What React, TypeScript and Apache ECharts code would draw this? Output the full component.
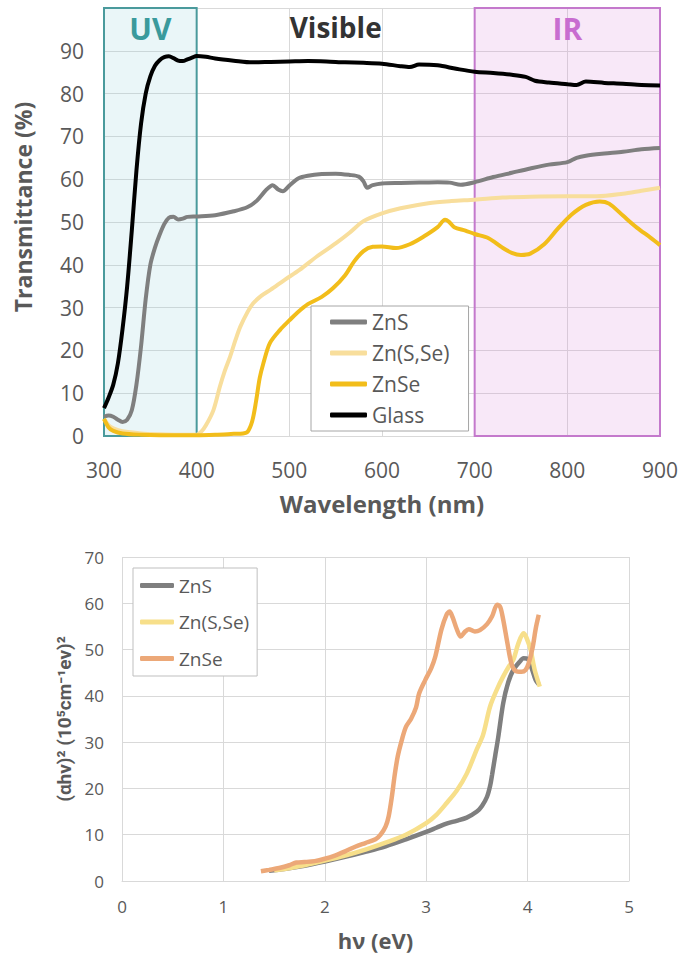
import React, { useEffect, useRef } from 'react';
import * as echarts from 'echarts';

const FONT = '"Open Sans", "Noto Sans", sans-serif';
const NARROW_FONT = 'Roboto, "Noto Sans", sans-serif';
const AXIS_TEXT = '#595959';
const GRID = '#d9d9d9';

// ---------- Top chart: transmittance vs wavelength ----------
const topNames = ['ZnS', 'Zn(S,Se)', 'ZnSe', 'Glass'];
const topColors = ['#7f7f7f', '#f8de9c', '#f2bd1a', '#000000'];
const wavelengthTicks = [300, 400, 500, 600, 700, 800, 900];

const znsTrans: [number, number][] = [
  [300, 4.5], [305, 4.8], [310, 4.5], [315, 3.8], [320, 3.3], [325, 3.8], [330, 6], [335, 12],
  [340, 21], [345, 32], [350, 40], [355, 44], [360, 47], [365, 49.5], [370, 51], [375, 51.2],
  [380, 50.6], [385, 50.8], [390, 51.2], [400, 51.3], [420, 51.6], [440, 52.5], [455, 53.5],
  [465, 55], [475, 57.5], [482, 58.6], [488, 57.6], [493, 57.2], [500, 58.5], [510, 60.2],
  [520, 60.8], [535, 61.2], [550, 61.3], [565, 61], [575, 60.6], [580, 59.5], [584, 58],
  [590, 58.6], [600, 59], [620, 59.1], [640, 59.2], [660, 59.3], [673, 59.2], [685, 58.7],
  [700, 59.3], [720, 60.5], [740, 61.5], [760, 62.5], [780, 63.4], [800, 64], [810, 65],
  [820, 65.5], [840, 66], [860, 66.4], [880, 67], [900, 67.3],
];
const znsseTrans: [number, number][] = [
  [300, 4], [305, 2.5], [310, 1.8], [320, 1.1], [340, 0.6], [360, 0.4], [380, 0.3], [400, 0.3],
  [405, 1], [410, 2.5], [418, 6], [425, 11.5], [430, 15], [436, 18.5], [442, 22.5], [447, 25.5],
  [455, 29], [461, 31], [470, 32.8], [480, 34.2], [495, 36.5], [511, 38.8], [530, 42], [550, 45],
  [565, 47.5], [580, 50.2], [600, 52], [620, 53.2], [650, 54.4], [675, 54.9], [700, 55.2],
  [730, 55.7], [760, 55.9], [800, 56], [832, 56], [860, 56.6], [880, 57.3], [900, 58],
];
const znseTrans: [number, number][] = [
  [300, 4], [305, 2], [310, 1.2], [320, 0.6], [340, 0.3], [360, 0.2], [400, 0.2], [420, 0.3],
  [440, 0.5], [450, 0.6], [455, 1], [460, 3.5], [464, 8], [468, 13.5], [472, 17], [479, 21.7],
  [490, 24.8], [500, 27], [508, 28.7], [520, 30.8], [535, 32.5], [547, 34.5], [560, 37.5],
  [570, 40.8], [580, 43.2], [590, 44.2], [600, 44.3], [615, 43.9], [630, 44.8], [645, 46.6],
  [660, 48.8], [668, 50.5], [672, 50.1], [678, 48.8], [690, 48], [700, 47.2], [715, 46.2],
  [730, 44], [740, 42.8], [750, 42.3], [760, 42.6], [775, 44.8], [790, 48.5], [805, 51.8],
  [820, 54], [835, 54.8], [845, 54.3], [860, 51.5], [875, 48.7], [890, 46.3], [900, 44.6],
];
const glassTrans: [number, number][] = [
  [300, 6.5], [305, 9], [310, 12], [315, 17], [320, 25], [325, 35], [330, 48], [335, 62],
  [340, 73], [345, 80], [350, 84], [355, 86.5], [360, 87.8], [365, 88.5], [370, 88.7],
  [375, 88.3], [380, 87.7], [385, 87.6], [390, 88], [395, 88.4], [400, 88.8], [410, 88.6],
  [420, 88.2], [440, 87.7], [460, 87.3], [480, 87.4], [500, 87.5], [520, 87.6], [540, 87.5],
  [560, 87.3], [580, 87.2], [600, 87], [620, 86.4], [630, 86.2], [640, 86.8], [660, 86.6],
  [680, 85.8], [700, 85.1], [720, 84.8], [740, 84.4], [755, 83.9], [765, 83], [780, 82.6],
  [800, 82.2], [810, 82], [820, 82.8], [840, 82.5], [860, 82.3], [880, 82], [900, 81.9],
];
const topData = [znsTrans, znsseTrans, znseTrans, glassTrans];

const regionNames = ['UV', 'Visible', 'IR'];
const regionRanges: [number, number][] = [[300, 400], [400, 700], [700, 900]];
const regionFills = ['rgba(150,210,220,0.2)', 'rgba(0,0,0,0)', 'rgba(220,140,220,0.2)'];
const regionBorders = ['#4a9a9c', 'rgba(0,0,0,0)', '#c479cc'];
const regionTextColors = ['#3a9a9c', '#333333', '#c86dd0'];
const regionFontSizes = [30, 28, 30];

// ---------- Bottom chart: Tauc plot ----------
const bottomNames = ['ZnS', 'Zn(S,Se)', 'ZnSe'];
const bottomColors = ['#7f7f7f', '#f7df8a', '#eca878'];

const znsTauc: [number, number][] = [
  [1.45, 2.2], [1.6, 2.6], [1.8, 3.3], [2.0, 4.2], [2.2, 5.2], [2.4, 6.3], [2.6, 7.5], [2.8, 9.0],
  [3.0, 10.6], [3.1, 11.5], [3.2, 12.4], [3.3, 13.0], [3.4, 13.7], [3.5, 15.0], [3.55, 16.2],
  [3.6, 18.2], [3.63, 20.5], [3.65, 23], [3.68, 27], [3.71, 31], [3.76, 38.5], [3.81, 43],
  [3.86, 45.6], [3.92, 47.3], [3.96, 48.1], [4.0, 48.0], [4.04, 46], [4.08, 43.4], [4.11, 42.5],
];
const znsseTauc: [number, number][] = [
  [1.5, 2.3], [1.6, 2.6], [1.8, 3.4], [2.0, 4.4], [2.2, 5.5], [2.4, 6.8], [2.6, 8.3], [2.8, 10.0],
  [3.0, 12.5], [3.1, 14.3], [3.2, 16.8], [3.3, 19.5], [3.4, 23.2], [3.5, 28.5], [3.56, 31.5],
  [3.63, 37.7], [3.7, 41.5], [3.76, 44.2], [3.82, 46.5], [3.86, 47.8], [3.91, 51.4], [3.96, 53.5],
  [3.99, 52.5], [4.03, 49.9], [4.07, 45.6], [4.12, 42],
];
const znseTauc: [number, number][] = [
  [1.37, 2.1], [1.45, 2.4], [1.55, 2.8], [1.65, 3.4], [1.72, 4.0], [1.8, 4.1], [1.9, 4.3],
  [2.0, 4.8], [2.1, 5.5], [2.2, 6.4], [2.3, 7.4], [2.4, 8.2], [2.5, 9.0], [2.55, 10.0],
  [2.6, 11.8], [2.63, 14], [2.66, 18], [2.69, 23], [2.72, 27], [2.76, 30.5], [2.8, 33.3],
  [2.85, 35], [2.9, 37.5], [2.93, 40.5], [2.99, 43.4], [3.05, 46], [3.09, 48.5], [3.15, 54.3],
  [3.2, 57.5], [3.23, 58.2], [3.26, 57], [3.3, 54.5], [3.34, 52.8], [3.38, 53.8], [3.42, 54.4],
  [3.48, 53.9], [3.53, 54.2], [3.6, 55.5], [3.65, 57.2], [3.7, 59.7], [3.73, 59.2], [3.76, 56.4],
  [3.8, 51.5], [3.84, 47], [3.88, 45.4], [3.94, 45.2], [3.98, 45.6], [4.01, 47], [4.05, 50.5],
  [4.08, 54.5], [4.11, 57.5],
];
const bottomData = [znsTauc, znsseTauc, znseTauc];

function topOption(): any {
  const lines = topNames.map((name, i) => ({
    name,
    type: 'line',
    data: topData[i],
    showSymbol: false,
    smooth: 0.3,
    z: 3,
    lineStyle: { color: topColors[i], width: 4 },
    itemStyle: { color: topColors[i] },
  }));
  const bands = {
    name: 'regions',
    type: 'line',
    data: [],
    z: 1,
    silent: true,
    markArea: {
      silent: true,
      data: regionNames.map((n, i) => [
        {
          name: n,
          xAxis: regionRanges[i][0],
          itemStyle: { color: regionFills[i], borderColor: regionBorders[i], borderWidth: 2 },
          label: {
            show: true,
            position: 'insideTop',
            distance: 6,
            color: regionTextColors[i],
            fontSize: regionFontSizes[i],
            fontWeight: 'bold',
            fontFamily: FONT,
          },
        },
        { xAxis: regionRanges[i][1] },
      ]),
    },
  };
  return {
    animation: false,
    backgroundColor: '#ffffff',
    grid: { left: 104, right: 22, top: 8, bottom: 84 },
    legend: {
      data: topNames,
      orient: 'vertical',
      left: 311,
      top: 306,
      padding: [5, 19, 5, 19],
      itemWidth: 37,
      itemHeight: 5,
      itemGap: 9,
      icon: 'roundRect',
      backgroundColor: '#ffffff',
      borderColor: '#a6a6a6',
      borderWidth: 1,
      textStyle: { color: AXIS_TEXT, fontSize: 21, lineHeight: 22, fontFamily: FONT },
    },
    xAxis: {
      type: 'value',
      min: wavelengthTicks[0],
      max: wavelengthTicks[wavelengthTicks.length - 1],
      interval: 100,
      name: 'Wavelength (nm)',
      nameLocation: 'middle',
      nameGap: 55,
      nameTextStyle: { color: AXIS_TEXT, fontSize: 24, fontWeight: 'bold', fontFamily: FONT },
      axisLine: { show: true, lineStyle: { color: GRID } },
      axisTick: { show: false },
      axisLabel: { color: AXIS_TEXT, fontSize: 21, margin: 23, fontFamily: FONT },
      splitLine: { show: true, lineStyle: { color: GRID } },
    },
    yAxis: {
      type: 'value',
      min: 0,
      max: 100,
      interval: 10,
      name: 'Transmittance (%)',
      nameLocation: 'middle',
      nameGap: 70,
      nameTextStyle: {
        color: AXIS_TEXT,
        fontSize: 23,
        fontWeight: 'bold',
        fontFamily: FONT,
        padding: [0, 0, 0, 30],
      },
      axisLine: { show: false },
      axisTick: { show: false },
      axisLabel: {
        color: AXIS_TEXT,
        fontSize: 21,
        margin: 20,
        fontFamily: FONT,
        formatter: (v: number) => (v === 100 ? '' : String(v)),
      },
      splitLine: { show: true, lineStyle: { color: GRID } },
    },
    series: [bands, ...lines],
  };
}

function bottomOption(): any {
  return {
    animation: false,
    backgroundColor: '#ffffff',
    grid: { left: 122, right: 53, top: 37, bottom: 75 },
    legend: {
      data: bottomNames,
      orient: 'vertical',
      left: 133,
      top: 48,
      padding: [7, 8, 7, 7],
      itemWidth: 34,
      itemHeight: 5,
      itemGap: 15.5,
      icon: 'roundRect',
      backgroundColor: '#ffffff',
      borderColor: '#bfbfbf',
      borderWidth: 1,
      textStyle: { color: AXIS_TEXT, fontSize: 19, lineHeight: 21, fontFamily: FONT },
    },
    xAxis: {
      type: 'value',
      min: 0,
      max: 5,
      interval: 1,
      name: 'hν (eV)',
      nameLocation: 'middle',
      nameGap: 48,
      nameTextStyle: { color: AXIS_TEXT, fontSize: 22, fontWeight: 'bold', fontFamily: FONT },
      axisLine: { show: true, lineStyle: { color: GRID } },
      axisTick: { show: false },
      axisLabel: { color: AXIS_TEXT, fontSize: 17, margin: 17, fontFamily: FONT },
      splitLine: { show: true, lineStyle: { color: GRID } },
    },
    yAxis: {
      type: 'value',
      min: 0,
      max: 70,
      interval: 10,
      name: '(αhν)² (10⁵cm⁻¹ev)²',
      nameLocation: 'middle',
      nameGap: 47,
      nameTextStyle: { color: AXIS_TEXT, fontSize: 19, fontWeight: 'bold', fontFamily: NARROW_FONT },
      axisLine: { show: false },
      axisTick: { show: false },
      axisLabel: { color: AXIS_TEXT, fontSize: 17, margin: 18, fontFamily: FONT },
      splitLine: { show: true, lineStyle: { color: GRID } },
    },
    series: bottomNames.map((name, i) => ({
      name,
      type: 'line',
      data: bottomData[i],
      showSymbol: false,
      smooth: 0.3,
      lineStyle: { color: bottomColors[i], width: 4.5 },
      itemStyle: { color: bottomColors[i] },
    })),
  };
}

export default function App() {
  const topRef = useRef<HTMLDivElement>(null);
  const bottomRef = useRef<HTMLDivElement>(null);

  useEffect(() => {
    document.body.style.margin = '0';
    const c1 = echarts.init(topRef.current!, undefined, { renderer: 'svg' });
    c1.setOption(topOption());
    const c2 = echarts.init(bottomRef.current!, undefined, { renderer: 'svg' });
    c2.setOption(bottomOption());
    return () => {
      c1.dispose();
      c2.dispose();
    };
  }, []);

  return (
    <div style={{ position: 'absolute', left: 0, top: 0, width: 682, height: 956, background: '#fff' }}>
      <div ref={topRef} style={{ position: 'absolute', left: 0, top: 0, width: 682, height: 520 }} />
      <div ref={bottomRef} style={{ position: 'absolute', left: 0, top: 520, width: 682, height: 436 }} />
    </div>
  );
}
